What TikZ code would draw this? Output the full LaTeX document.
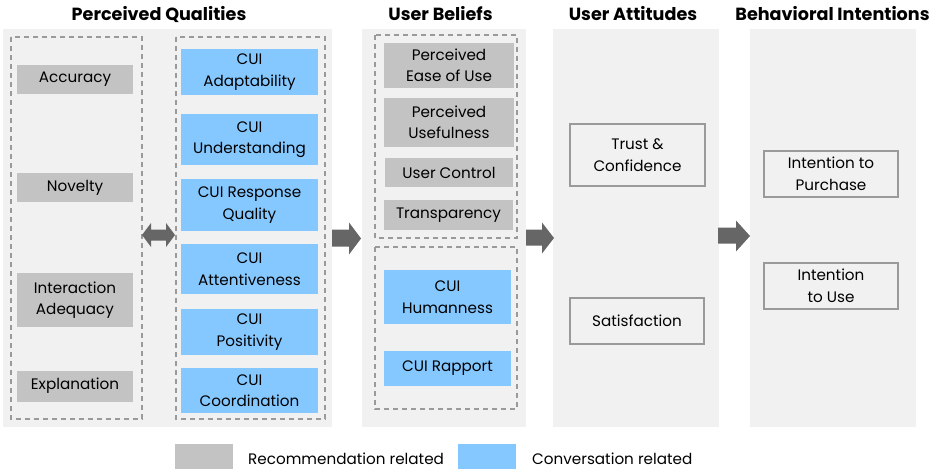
\documentclass[tikz,border=0pt]{standalone}
\usepackage{fontspec}
\setmainfont{Poppins}
\begin{document}
\definecolor{panelbg}{HTML}{F1F1F1}
\definecolor{recgray}{HTML}{C3C3C3}
\definecolor{convblue}{HTML}{85C8FF}
\definecolor{dashgray}{HTML}{9A9A9A}
\definecolor{arrowgray}{HTML}{666666}
\definecolor{framegray}{HTML}{9A9A9A}
\begin{tikzpicture}[x=1pt,y=-1pt,
  panel/.style={fill=panelbg,draw=none},
  group/.style={draw=dashgray,line width=1.6pt,dash pattern=on 5pt off 4pt},
  boxtext/.style={font=\fontsize{15.2}{21.5}\selectfont,align=center,inner sep=0pt,text=black},
  recbox/.style={boxtext,fill=recgray},
  convbox/.style={boxtext,fill=convblue},
  outcome/.style={boxtext,fill=panelbg,draw=framegray,line width=1.6pt},
  heading/.style={font=\fontsize{17.6}{20}\selectfont\bfseries,anchor=base,inner sep=0pt},
  legendtext/.style={font=\fontsize{15.2}{20}\selectfont,anchor=base west,inner sep=0pt},
  blockarrow/.style={fill=arrowgray,draw=none}]
\useasboundingbox (0,0) rectangle (934,473);

% column backgrounds
\fill[panel] (3,29) rectangle (332,427);
\fill[panel] (362,29) rectangle (526,427);
\fill[panel] (553,29) rectangle (719,427);
\fill[panel] (750,29) rectangle (916,427);

% column headings
\node[heading] (hq) at (159,20.5) {Perceived Qualities};
\node[heading] (hb) at (440.5,20.5) {User Beliefs};
\node[heading] (ha) at (633,20.5) {User Attitudes};
\node[heading] (hi) at (832.5,20.5) {Behavioral Intentions};

% dashed groups
\draw[group] (11,37) rectangle (142,419);
\draw[group] (176,37) rectangle (325,419);
\draw[group] (375,35) rectangle (517,238);
\draw[group] (375,247) rectangle (517,409);

% perceived qualities: recommendation side
\node[recbox,minimum width=116pt,minimum height=29pt] (acc) at (75,79.5) {Accuracy};
\node[recbox,minimum width=116pt,minimum height=29pt] (nov) at (75,187.5) {Novelty};
\node[recbox,minimum width=116pt,minimum height=54pt] (ia) at (75,300) {Interaction\\Adequacy};
\node[recbox,minimum width=116pt,minimum height=31pt] (expl) at (75,386) {Explanation};

% perceived qualities: conversation side
\node[convbox,minimum width=137pt,minimum height=46pt] (adapt) at (249.5,72) {CUI\\Adaptability};
\node[convbox,minimum width=137pt,minimum height=51pt] (under) at (249.5,139.5) {CUI\\Understanding};
\node[convbox,minimum width=137pt,minimum height=52pt] (resp) at (249.5,205) {CUI Response\\Quality};
\node[convbox,minimum width=137pt,minimum height=50pt] (att) at (249.5,269) {CUI\\Attentiveness};
\node[convbox,minimum width=137pt,minimum height=46pt] (pos) at (249.5,332) {CUI\\Positivity};
\node[convbox,minimum width=137pt,minimum height=45pt] (coord) at (249.5,390.5) {CUI\\Coordination};

% user beliefs
\node[recbox,minimum width=130pt,minimum height=45pt] (peou) at (449,65.5) {Perceived\\Ease of Use};
\node[recbox,minimum width=130pt,minimum height=49pt] (pu) at (449,122.5) {Perceived\\Usefulness};
\node[recbox,minimum width=128pt,minimum height=29pt] (uc) at (449,172.5) {User Control};
\node[recbox,minimum width=129pt,minimum height=30pt] (tr) at (448.5,215) {Transparency};
\node[convbox,minimum width=127pt,minimum height=54pt] (hum) at (447.5,297) {CUI\\Humanness};
\node[convbox,minimum width=127pt,minimum height=35pt] (rap) at (447.5,368.5) {CUI Rapport};

% user attitudes
\node[outcome,minimum width=135pt,minimum height=62pt] (trust) at (637.5,155) {Trust \&\\Confidence};
\node[outcome,minimum width=134pt,minimum height=46pt] (sat) at (637,321) {Satisfaction};

% behavioral intentions
\node[outcome,minimum width=134pt,minimum height=46pt] (purch) at (831,174) {Intention to\\Purchase};
\node[outcome,minimum width=134pt,minimum height=46pt] (use) at (831,286) {Intention\\to Use};

% block arrows between stages
\fill[blockarrow] (142,235) -- (151,223) -- (151,229.5) -- (166,229.5) -- (166,223)
  -- (175,235) -- (166,247) -- (166,240.5) -- (151,240.5) -- (151,247) -- cycle;
\fill[blockarrow] (332,229.5) -- (349,229.5) -- (349,222.5) -- (361,238.5)
  -- (349,254.5) -- (349,246.5) -- (332,246.5) -- cycle;
\fill[blockarrow] (526,229.5) -- (542,229.5) -- (542,222.5) -- (554,238)
  -- (542,253.5) -- (542,245.5) -- (526,245.5) -- cycle;
\fill[blockarrow] (718,227.5) -- (736,227.5) -- (736,220.5) -- (750,236)
  -- (736,251.5) -- (736,243.5) -- (718,243.5) -- cycle;

% legend
\fill[recgray] (175,444) rectangle (233,469);
\node[legendtext] (lrec) at (248,464.5) {Recommendation related};
\fill[convblue] (458,444) rectangle (516,469);
\node[legendtext] (lconv) at (532,464.5) {Conversation related};
\end{tikzpicture}
\end{document}
